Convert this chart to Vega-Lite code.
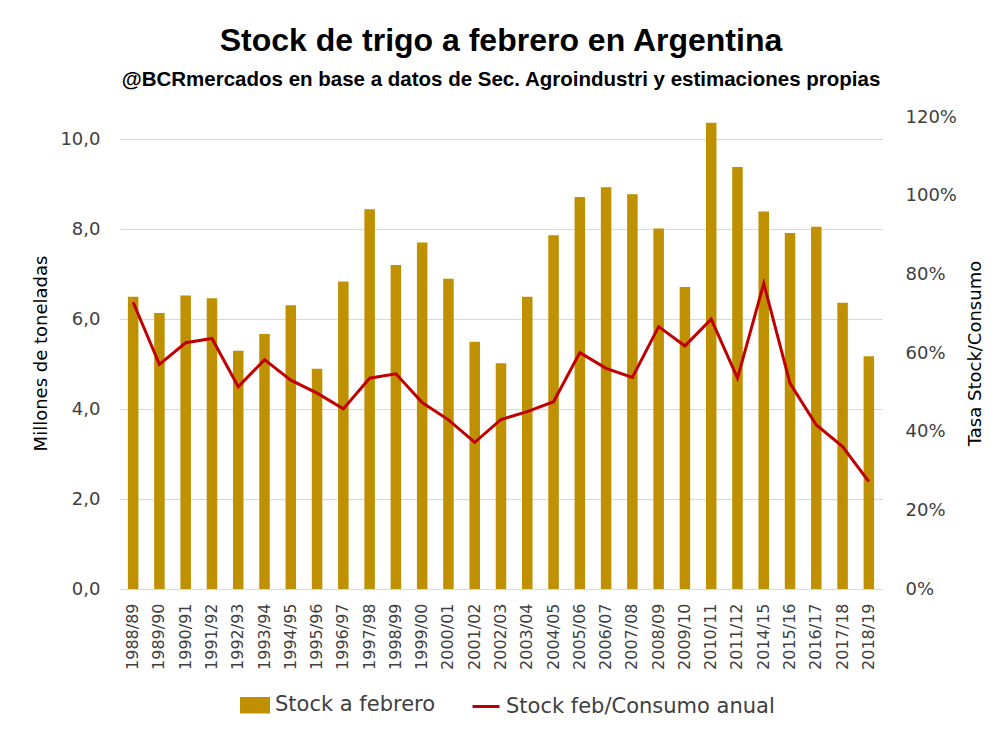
{
  "$schema": "https://vega.github.io/schema/vega-lite/v6.json",
  "autosize": {"type": "none"},
  "width": 762,
  "height": 472,
  "padding": {"left": 120, "top": 117, "right": 113, "bottom": 140},
  "background": "white",
  "title": {
    "text": "Stock de trigo a febrero en Argentina",
    "subtitle": "@BCRmercados en base a datos de Sec. Agroindustri y estimaciones propias",
    "anchor": "middle",
    "frame": "group",
    "offset": 17,
    "font": "Liberation Sans",
    "fontSize": 32,
    "fontWeight": "bold",
    "color": "#000000",
    "subtitleFont": "Liberation Sans",
    "subtitleFontSize": 20.5,
    "subtitleFontWeight": "bold",
    "subtitleColor": "#000000",
    "subtitlePadding": 12
  },
  "data": {
    "values": [
      {"campania": "1988/89", "stock": 6.50, "ratio": 0.729},
      {"campania": "1989/90", "stock": 6.14, "ratio": 0.571},
      {"campania": "1990/91", "stock": 6.53, "ratio": 0.626},
      {"campania": "1991/92", "stock": 6.47, "ratio": 0.637},
      {"campania": "1992/93", "stock": 5.30, "ratio": 0.514},
      {"campania": "1993/94", "stock": 5.67, "ratio": 0.583},
      {"campania": "1994/95", "stock": 6.31, "ratio": 0.531},
      {"campania": "1995/96", "stock": 4.90, "ratio": 0.498},
      {"campania": "1996/97", "stock": 6.84, "ratio": 0.458},
      {"campania": "1997/98", "stock": 8.45, "ratio": 0.536},
      {"campania": "1998/99", "stock": 7.21, "ratio": 0.547},
      {"campania": "1999/00", "stock": 7.71, "ratio": 0.474},
      {"campania": "2000/01", "stock": 6.90, "ratio": 0.430},
      {"campania": "2001/02", "stock": 5.50, "ratio": 0.373},
      {"campania": "2002/03", "stock": 5.02, "ratio": 0.431},
      {"campania": "2003/04", "stock": 6.50, "ratio": 0.451},
      {"campania": "2004/05", "stock": 7.87, "ratio": 0.476},
      {"campania": "2005/06", "stock": 8.72, "ratio": 0.601},
      {"campania": "2006/07", "stock": 8.94, "ratio": 0.561},
      {"campania": "2007/08", "stock": 8.78, "ratio": 0.538},
      {"campania": "2008/09", "stock": 8.02, "ratio": 0.667},
      {"campania": "2009/10", "stock": 6.72, "ratio": 0.618},
      {"campania": "2010/11", "stock": 10.37, "ratio": 0.686},
      {"campania": "2011/12", "stock": 9.39, "ratio": 0.536},
      {"campania": "2014/15", "stock": 8.40, "ratio": 0.777},
      {"campania": "2015/16", "stock": 7.92, "ratio": 0.523},
      {"campania": "2016/17", "stock": 8.06, "ratio": 0.417},
      {"campania": "2017/18", "stock": 6.37, "ratio": 0.362},
      {"campania": "2018/19", "stock": 5.18, "ratio": 0.273}
    ]
  },
  "encoding": {
    "x": {
      "field": "campania",
      "type": "ordinal",
      "sort": null,
      "scale": {"paddingInner": 0.6, "paddingOuter": 0.3},
      "axis": {
        "title": null,
        "labelAngle": 270,
        "labelPadding": 14,
        "labelFontSize": 16,
        "labelColor": "#404040",
        "labelOverlap": false,
        "ticks": false,
        "domain": true,
        "domainColor": "#D9D9D9",
        "domainWidth": 1
      }
    }
  },
  "layer": [
    {
      "mark": {"type": "bar"},
      "encoding": {
        "y": {
          "field": "stock",
          "type": "quantitative",
          "scale": {"domain": [0, 10.5], "nice": false, "zero": true},
          "axis": {
            "orient": "left",
            "title": "Millones de toneladas",
            "values": [0, 2, 4, 6, 8, 10],
            "labelExpr": "replace(format(datum.value, '.1f'), '.', ',')",
            "grid": true,
            "gridColor": "#D9D9D9",
            "gridWidth": 1,
            "domain": false,
            "ticks": false,
            "labelPadding": 20,
            "labelFontSize": 18,
            "labelColor": "#404040",
            "titleFontSize": 18,
            "titleFontWeight": "normal",
            "titleColor": "#000000",
            "titlePadding": 9
          }
        },
        "color": {
          "datum": "Stock a febrero",
          "type": "nominal",
          "scale": {
            "domain": ["Stock a febrero", "Stock feb/Consumo anual"],
            "range": ["#BF9000", "#C00000"]
          },
          "legend": {
            "title": null,
            "orient": "none",
            "legendX": 120,
            "legendY": 573,
            "direction": "horizontal",
            "labelFontSize": 21,
            "labelColor": "#404040",
            "labelLimit": 500,
            "labelOffset": 5,
            "columnPadding": 30,
            "symbolSize": 729,
            "encode": {
              "symbols": {
                "update": {
                  "shape": {"signal": "datum.label === 'Stock a febrero' ? 'M-1,-0.5H1V0.5H-1Z' : 'stroke'"},
                  "fill": {"signal": "datum.label === 'Stock a febrero' ? '#BF9000' : 'transparent'"},
                  "stroke": {"signal": "datum.label === 'Stock a febrero' ? 'transparent' : '#C00000'"},
                  "strokeWidth": {"value": 3},
                  "opacity": {"value": 1}
                }
              }
            }
          }
        }
      }
    },
    {
      "mark": {"type": "line", "strokeWidth": 3},
      "encoding": {
        "y": {
          "field": "ratio",
          "type": "quantitative",
          "scale": {"domain": [0, 1.2], "nice": false},
          "axis": {
            "orient": "right",
            "title": "Tasa Stock/Consumo",
            "values": [0, 0.2, 0.4, 0.6, 0.8, 1.0, 1.2],
            "format": ".0%",
            "grid": false,
            "domain": false,
            "ticks": false,
            "labelPadding": 23,
            "labelFontSize": 18,
            "labelColor": "#404040",
            "titleFontSize": 18,
            "titleFontWeight": "normal",
            "titleColor": "#000000",
            "titleAngle": 270,
            "titleBaseline": "top",
            "titlePadding": 10
          }
        },
        "color": {"datum": "Stock feb/Consumo anual", "type": "nominal"}
      }
    }
  ],
  "resolve": {"scale": {"y": "independent"}},
  "config": {
    "font": "DejaVu Sans",
    "view": {"stroke": null},
    "axis": {"labelFont": "DejaVu Sans", "titleFont": "DejaVu Sans"},
    "legend": {"labelFont": "DejaVu Sans"}
  }
}
